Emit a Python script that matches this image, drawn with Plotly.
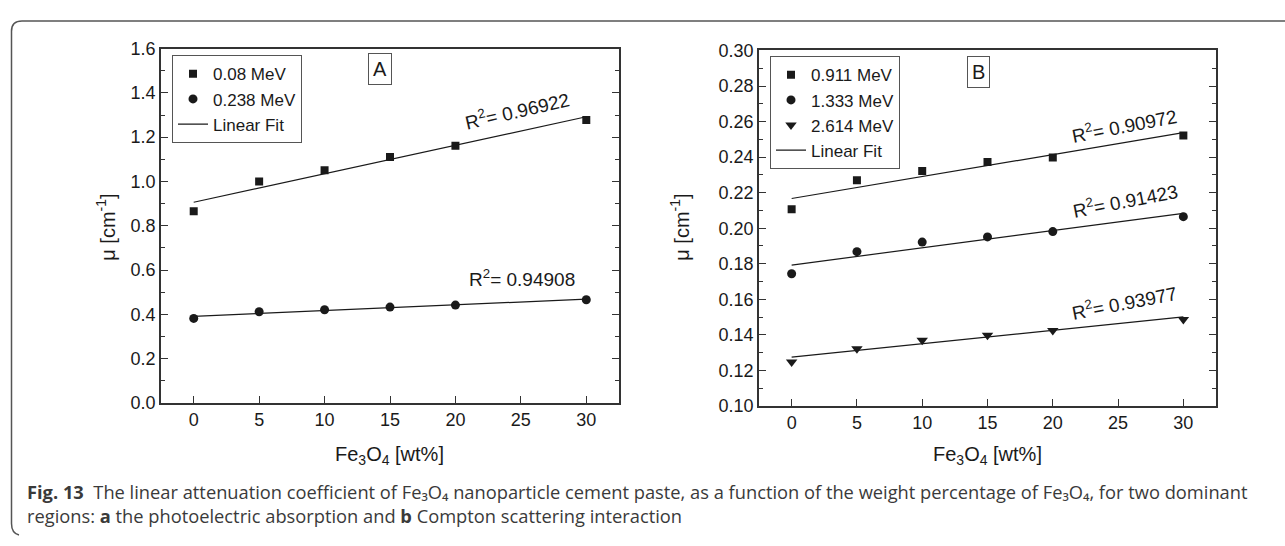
import numpy as np
import plotly.graph_objects as go

W, H = 1285, 546

# ---------------- data ----------------
wt = [0, 5, 10, 15, 20, 30]
# panel A (photoelectric region)
mu_008 = [0.866, 1.000, 1.051, 1.110, 1.161, 1.278]
mu_0238 = [0.382, 0.412, 0.421, 0.433, 0.442, 0.466]
# panel B (Compton region)
mu_0911 = [0.2107, 0.2270, 0.2322, 0.2372, 0.2398, 0.2521]
mu_1333 = [0.1744, 0.1868, 0.1922, 0.1951, 0.1981, 0.2065]
mu_2614 = [0.1247, 0.1322, 0.1370, 0.1398, 0.1425, 0.1487]

labels_A = ["0.08 MeV", "0.238 MeV"]
labels_B = ["0.911 MeV", "1.333 MeV", "2.614 MeV"]
r2_A = ["0.96922", "0.94908"]
r2_B = ["0.90972", "0.91423", "0.93977"]
x_ticks = [0, 5, 10, 15, 20, 25, 30]

FONT = "Liberation Sans, Arial, sans-serif"
INK = "#1a1a1a"


def px(x):
    return x / W


def py(y):
    return 1 - y / H


def fit_line(x, y):
    k, b = np.polyfit(x, y, 1)
    xs = np.array([min(x), max(x)])
    return xs, k * xs + b


fig = go.Figure()

# ---- panel A ----
fig.add_trace(go.Scatter(x=wt, y=mu_008, mode="markers", name=labels_A[0],
                         marker=dict(symbol="square", size=8, color=INK),
                         xaxis="x", yaxis="y", legend="legend"))
fig.add_trace(go.Scatter(x=wt, y=mu_0238, mode="markers", name=labels_A[1],
                         marker=dict(symbol="circle", size=9, color=INK),
                         xaxis="x", yaxis="y", legend="legend"))
for i, ser in enumerate([mu_008, mu_0238]):
    fx, fy = fit_line(wt, ser)
    fig.add_trace(go.Scatter(x=fx, y=fy, mode="lines", name="Linear Fit",
                             line=dict(color=INK, width=1.2),
                             showlegend=(i == 0), xaxis="x", yaxis="y",
                             legend="legend"))

# ---- panel B ----
syms = ["square", "circle", "triangle-down"]
sizes = [8, 9, 10]
for lab, ser, s, sz in zip(labels_B, [mu_0911, mu_1333, mu_2614], syms, sizes):
    fig.add_trace(go.Scatter(x=wt, y=ser, mode="markers", name=lab,
                             marker=dict(symbol=s, size=sz, color=INK),
                             xaxis="x2", yaxis="y2", legend="legend2"))
for i, ser in enumerate([mu_0911, mu_1333, mu_2614]):
    fx, fy = fit_line(wt, ser)
    fig.add_trace(go.Scatter(x=fx, y=fy, mode="lines", name="Linear Fit",
                             line=dict(color=INK, width=1.2),
                             showlegend=(i == 0), xaxis="x2", yaxis="y2",
                             legend="legend2"))

axis_common = dict(showline=True, linecolor="#333", linewidth=1.6, mirror="ticks",
                   ticks="inside", tickcolor="#333", tickwidth=1.2,
                   showgrid=False, zeroline=False,
                   tickfont=dict(family=FONT, size=18, color=INK))

xA = dict(axis_common, domain=[px(161), px(619)], range=[-2.5, 32.5],
          tickvals=x_ticks, ticklen=7, anchor="y")
xB = dict(axis_common, domain=[px(759), px(1216)], range=[-2.5, 32.5],
          tickvals=x_ticks, ticklen=7, anchor="y2")
xA["mirror"] = True
xB["mirror"] = True
yA = dict(axis_common, domain=[py(408), py(40)], range=[0, 1.6], dtick=0.2,
          tick0=0, tickformat=".1f", ticklen=7, anchor="x",
          minor=dict(dtick=0.1, ticks="inside", ticklen=4, tickcolor="#333"))
yB = dict(axis_common, domain=[py(411), py(42)], range=[0.10, 0.30], dtick=0.02,
          tick0=0.10, tickformat=".2f", ticklen=7, anchor="x2",
          minor=dict(dtick=0.01, ticks="inside", ticklen=4, tickcolor="#333"))

legend_style = dict(bgcolor="rgba(255,255,255,0)", bordercolor="#555",
                    borderwidth=1, font=dict(family=FONT, size=17, color=INK),
                    xanchor="left", yanchor="top", traceorder="normal",
                    itemwidth=30, tracegroupgap=0)

annotations = []
# panel tags
for tag, cx, cy in (("A", 380, 61), ("B", 978, 64)):
    annotations.append(dict(text=tag, x=px(cx), y=py(cy), xref="paper", yref="paper",
                            showarrow=False, xanchor="center", yanchor="middle",
                            font=dict(family=FONT, size=20, color=INK),
                            bordercolor="#555", borderwidth=1, borderpad=4))
# R^2 labels
r2_pos = [(r2_A[0], 517, 104, -13), (r2_A[1], 522, 278, 0),
          (r2_B[0], 1124, 119, -11), (r2_B[1], 1125, 197, -11),
          (r2_B[2], 1124, 303, -11)]
for t, xx, yy, ang in r2_pos:
    annotations.append(dict(text="R<sup>2</sup>= " + t, x=px(xx), y=py(yy),
                            xref="paper", yref="paper", showarrow=False,
                            textangle=ang, xanchor="center", yanchor="middle",
                            font=dict(family=FONT, size=19, color=INK)))
# axis titles
for cx in (390, 987):
    annotations.append(dict(text="Fe<sub>3</sub>O<sub>4</sub> [wt%]", x=px(cx), y=py(462),
                            xref="paper", yref="paper", showarrow=False,
                            xanchor="center", yanchor="middle",
                            font=dict(family=FONT, size=20, color=INK)))
for cx in (106, 680):
    annotations.append(dict(text="\u03bc [cm<sup>-1</sup>]", x=px(cx), y=py(226),
                            xref="paper", yref="paper", showarrow=False,
                            textangle=-90, xanchor="center", yanchor="middle",
                            font=dict(family=FONT, size=20, color=INK)))
# caption (two lines in one text block)
CAP = "Open Sans, Noto Sans, DejaVu Sans, sans-serif"
caption = ("<b>Fig. 13</b>  The linear attenuation coefficient of Fe\u2083O\u2084 "
           "nanoparticle cement paste, as a function of the weight percentage of "
           "Fe\u2083O\u2084, for two dominant<br>"
           "regions: <b>a</b> the photoelectric absorption and <b>b</b> Compton "
           "scattering interaction")
annotations.append(dict(text=caption, x=px(25), y=py(512), xref="paper", yref="paper",
                        showarrow=False, xanchor="left", yanchor="middle", align="left",
                        font=dict(family=CAP, size=18.3, color="#3a3a3a")))

# outer frame: top line + left side with rounded corners
path = (f"M {px(1285)},{py(11.5)} L {px(22)},{py(11.5)} "
        f"Q {px(11.5)},{py(11.5)} {px(11.5)},{py(22)} "
        f"L {px(11.5)},{py(533)} Q {px(11.5)},{py(543)} {px(19)},{py(545)}")
shapes = [dict(type="path", path=path, xref="paper", yref="paper",
               line=dict(color="#555", width=1.5))]

fig.update_layout(
    width=W, height=H, margin=dict(l=0, r=0, t=0, b=0),
    paper_bgcolor="white", plot_bgcolor="white",
    xaxis=xA, yaxis=yA, xaxis2=xB, yaxis2=yB,
    legend=dict(legend_style, x=px(172), y=py(47)),
    legend2=dict(legend_style, x=px(770), y=py(48)),
    annotations=annotations, shapes=shapes,
    font=dict(family=FONT, color=INK),
)

fig.write_html("out.html")
